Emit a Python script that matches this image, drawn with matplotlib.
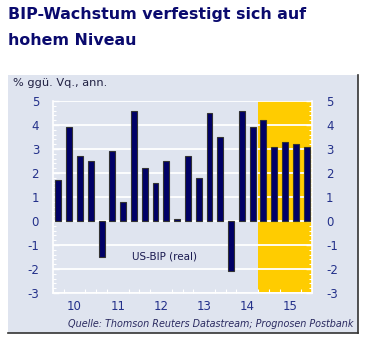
import matplotlib
matplotlib.use("Agg")
import matplotlib.pyplot as plt
import numpy as np
from matplotlib.patches import Rectangle
from matplotlib.ticker import MultipleLocator, FixedLocator

plt.rcParams["axes.unicode_minus"] = False

quarters = [f"{y}Q{q}" for y in range(2010, 2016) for q in range(1, 5)]
values = [1.7, 3.9, 2.7, 2.5,
          -1.5, 2.9, 0.8, 4.6,
          2.2, 1.6, 2.5, 0.1,
          2.7, 1.8, 4.5, 3.5,
          -2.1, 4.6, 3.9, 4.2,
          3.1, 3.3, 3.2, 3.1]
year_labels = ["10", "11", "12", "13", "14", "15"]
forecast_start = 19  # index of first forecast-shaded quarter

NAVY = "#000066"
TXT = "#23308a"
PANEL = "#dfe4ef"
YELLOW = "#ffcc00"

fig = plt.figure(figsize=(3.69, 3.43), dpi=100)
fig.patch.set_facecolor("white")

# panel background with dark right/bottom border
panel = Rectangle((0.022, 0.029), 0.948, 0.752, transform=fig.transFigure,
                  facecolor=PANEL, edgecolor="none", zorder=-10)
fig.patches.append(panel)
fig.add_artist(plt.Line2D([0.970, 0.970], [0.029, 0.781], transform=fig.transFigure,
                          color="#333333", lw=1.2, zorder=-5))
fig.add_artist(plt.Line2D([0.022, 0.970], [0.029, 0.029], transform=fig.transFigure,
                          color="#333333", lw=1.2, zorder=-5))

fig.text(0.022, 0.958, "BIP-Wachstum verfestigt sich auf", fontsize=11.4,
         fontweight="bold", color="#0a0a6e", va="center", ha="left")
fig.text(0.022, 0.882, "hohem Niveau", fontsize=11.4,
         fontweight="bold", color="#0a0a6e", va="center", ha="left")
fig.text(0.035, 0.758, "% ggü. Vq., ann.", fontsize=8.2, color="#222244",
         va="center", ha="left")
fig.text(0.957, 0.055, "Quelle: Thomson Reuters Datastream; Prognosen Postbank",
         fontsize=6.9, style="italic", color="#2a2a60", ha="right", va="center")

ax = fig.add_axes([0.1436, 0.1458, 0.702, 0.5598])
ax.set_zorder(5)
ax.set_facecolor(PANEL)
x = np.arange(len(values))
ax.axvspan(forecast_start - 0.5, len(values) - 0.5, color=YELLOW, zorder=0.5, lw=0)
ax.bar(x, values, width=0.55, color=NAVY, edgecolor="#333333", linewidth=0.8, zorder=3)

ax.set_xlim(-0.5, len(values) - 0.5)
ax.set_ylim(-3, 5)
ax.yaxis.set_major_locator(MultipleLocator(1))
ax.yaxis.set_minor_locator(MultipleLocator(0.2))
ax.grid(axis="y", which="major", color="white", lw=1.3, zorder=1)
ax.set_axisbelow(True)

centers = [4 * i + 1.5 for i in range(len(year_labels))]
ax.xaxis.set_major_locator(FixedLocator(centers))
ax.set_xticklabels(year_labels)
ax.xaxis.set_minor_locator(FixedLocator(np.arange(-0.5, len(values), 1.0)))

for s in ["top"]:
    ax.spines[s].set_visible(False)
for s in ["left", "right", "bottom"]:
    ax.spines[s].set_color("white")
    ax.spines[s].set_linewidth(1.2)

ax.tick_params(axis="y", which="both", left=True, right=True, labelleft=True,
               labelright=True, colors="white", labelcolor=TXT, labelsize=8.5,
               direction="in", pad=10)
ax.tick_params(axis="y", which="major", length=4, width=1)
ax.tick_params(axis="y", which="minor", length=2, width=0.8)
ax.tick_params(axis="x", which="major", length=0, labelcolor=TXT, labelsize=8.5, pad=5)
ax.tick_params(axis="x", which="minor", length=3, color="white", width=0.8, direction="in")

ax.text(0.432, 0.1875, "US-BIP (real)", transform=ax.transAxes, fontsize=7.5,
        color="#1a1a50", ha="center", va="center")

fig.savefig("out.png", dpi=100)
